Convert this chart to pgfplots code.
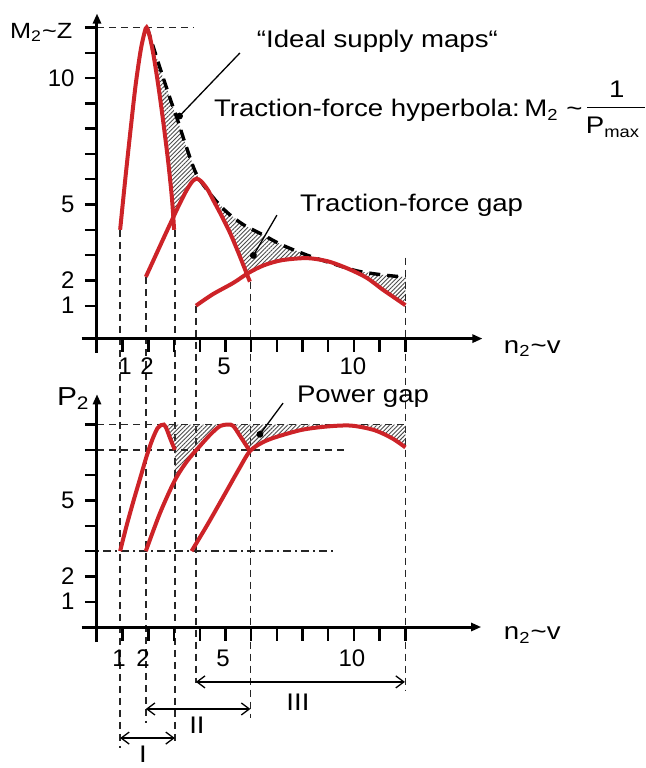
\documentclass[border=0pt]{standalone}
\usepackage{fontspec}
\setmainfont{Liberation Sans}
\usepackage{graphicx}
\usepackage{pgfplots}
\pgfplotsset{compat=1.18}
\usetikzlibrary{patterns.meta,arrows.meta}
\definecolor{gearred}{RGB}{205,35,40}
\newcommand{\hs}[1]{\scalebox{1.15}[1]{#1}}
\tikzset{
  guide/.style={line width=0.85pt,black!85,dash pattern=on 3.5pt off 2.5pt},
  gear/.style={line width=2pt,gearred,smooth,tension=0.5},
  hatch/.style={draw=none,pattern={Lines[angle=45,distance=1.5pt,line width=0.45pt]},pattern color=black!70},
  axisline/.style={line width=1.5pt,-{Triangle[length=5pt,width=4pt]}},
  tk/.style={line width=1.2pt},
  ann/.style={font=\fontsize{12}{14}\selectfont},
  tl/.style={font=\fontsize{12}{14}\selectfont},
  ptr/.style={line width=0.65pt,-{Circle[length=3.4pt]}},
  rng/.style={line width=0.65pt,{Straight Barb[length=4pt,width=6pt]}-{Straight Barb[length=4pt,width=6pt]}}
}
\begin{document}
\begin{tikzpicture}
\useasboundingbox (0,0) rectangle (322.5pt,-384pt);
% ---------------- top: torque ----------------
\begin{axis}[
  at={(48.5pt,-165.5pt)}, anchor=south west,
  scale only axis, width=154.2pt, height=151.8pt,
  xmin=0, xmax=12, ymin=0, ymax=12,
  hide axis, clip=false]
% hatched traction-force gap
\addplot[hatch,forget plot] coordinates {
 (1.95,12.0) (2.2,11.2) (2.45,10.4) (2.84,9.2) (3.15,8.3) (3.42,7.45) (3.87,6.2) (4.5,5.3) (5.05,4.7) (5.7,4.2) (6.46,3.8) (7.2,3.4) (8.17,3.0) (9.0,2.72) (10.1,2.38) (11.1,2.22) (12,2.13)
 (12,1.02) (11.6,1.3) (11.1,1.65) (10.5,2.1) (9.8,2.45) (9.0,2.75) (8.17,2.88) (7.2,2.8) (6.5,2.6) (5.81,2.26)
 (5.5,3.1) (5.18,3.87) (4.85,4.55) (4.52,5.18) (4.3,5.6) (4.05,5.92) (3.87,6.02) (3.7,5.9) (3.49,5.57) (3.25,5.1) (2.97,4.48)
 (2.92,5.2) (2.78,6.6) (2.6,8.1) (2.4,9.6) (2.2,10.9) (2.05,11.65) (1.95,12.0)};
% guides
\draw[guide] (axis cs:0,12) -- (axis cs:3.75,12);
\draw[guide] (axis cs:0.9,4.0) -- (axis cs:0.9,-16.48);
\draw[guide] (axis cs:1.9,2.14) -- (axis cs:1.9,-15.5);
\draw[guide] (axis cs:3.03,4.0) -- (axis cs:3.03,-16.2);
\draw[guide] (axis cs:3.85,1.0) -- (axis cs:3.85,-13.9);
\draw[guide] (axis cs:5.97,1.95) -- (axis cs:5.97,-15.3);
\draw[guide] (axis cs:12,2.9) -- (axis cs:12,-14.2);
% hyperbola
\addplot[black,line width=1.7pt,dash pattern=on 5.5pt off 3.5pt,smooth,tension=0.5] coordinates {
 (1.95,12.0) (2.2,11.2) (2.45,10.4) (2.84,9.2) (3.15,8.3) (3.42,7.45) (3.87,6.2) (4.5,5.3) (5.05,4.7) (5.7,4.2) (6.46,3.8) (7.2,3.4) (8.17,3.0) (9.0,2.72) (10.1,2.38) (11.1,2.22) (12,2.13)};
% gears
\addplot[gear] coordinates {(0.9,4.0) (1.1,6.0) (1.3,7.9) (1.5,9.7) (1.7,11.1) (1.85,11.8) (1.93,12.0) (2.05,11.65) (2.2,10.9) (2.4,9.6) (2.6,8.1) (2.78,6.6) (2.92,5.2) (3.0,4.0)};
\addplot[gear] coordinates {(1.9,2.14) (2.32,3.07) (2.65,3.8) (2.97,4.5) (3.25,5.1) (3.49,5.57) (3.7,5.9) (3.87,6.02) (4.05,5.92) (4.3,5.6) (4.52,5.18) (4.85,4.55) (5.18,3.87) (5.5,3.1) (5.82,2.28) (5.95,1.95)};
\addplot[gear] coordinates {(3.85,1.0) (4.5,1.45) (5.3,1.9) (5.9,2.3) (6.5,2.6) (7.2,2.8) (8.17,2.88) (9.0,2.75) (9.8,2.45) (10.5,2.1) (11.1,1.65) (11.6,1.3) (12,1.02)};
% axes
\draw[axisline] (axis cs:0,-0.85) -- (axis cs:0,12.55);
\draw[axisline] (axis cs:-0.6,-0.3) -- (axis cs:15.0,-0.3);
\pgfplotsinvokeforeach{1,...,12}{\draw[tk] (axis cs:-0.47,#1) -- (axis cs:0,#1);}
\pgfplotsinvokeforeach{1,...,12}{\draw[tk] (axis cs:#1,-0.3) -- (axis cs:#1,-0.82);}
% tick labels
\node[tl,anchor=east] at (axis cs:-0.6,10) {10};
\node[tl,anchor=east] at (axis cs:-0.6,5) {5};
\node[tl,anchor=east] at (axis cs:-0.6,2) {2};
\node[tl,anchor=east] at (axis cs:-0.6,1) {1};
\node[tl] at (axis cs:1.09,-1.4) {1};
\node[tl] at (axis cs:1.95,-1.4) {2};
\node[tl] at (axis cs:4.94,-1.4) {5};
\node[tl] at (axis cs:9.96,-1.4) {10};
\node[anchor=base west,inner sep=0pt,font=\fontsize{11}{13}\selectfont] at (axis cs:-3.4,11.58) {\hs{M\textsubscript{2}\textasciitilde Z}};
\node[anchor=base west,ann] at (axis cs:15.56,-0.87) {\hs{n\textsubscript{2}\textasciitilde v}};
% annotations
\node[anchor=base west,ann] at (axis cs:5.95,11.19) {\hs{“Ideal supply maps“}};
\draw[ptr] (axis cs:5.56,10.99) -- (axis cs:3.12,8.4);
\node[anchor=base west,ann] at (axis cs:4.28,8.46) {\hs{Traction-force hyperbola:\,M\textsubscript{2} \textasciitilde}};
\node[ann] at (axis cs:20.23,9.57) {\hs{1}};
\draw[line width=0.6pt] (axis cs:19.07,8.85) -- (axis cs:21.32,8.85);
\node[ann] at (axis cs:20.08,8.06) {\hs{P\textsubscript{max}}};
\node[anchor=base west,ann] at (axis cs:7.63,4.72) {\hs{Traction-force gap}};
\draw[ptr] (axis cs:7.0,4.58) -- (axis cs:6.02,2.87);
\end{axis}
% ---------------- bottom: power ----------------
\begin{axis}[
  at={(48.5pt,-313.5pt)}, anchor=south west,
  scale only axis, width=154.2pt, height=101.2pt,
  xmin=0, xmax=12, ymin=0, ymax=8,
  hide axis, clip=false]
\addplot[hatch,forget plot] coordinates {
 (2.58,8.0) (12,8.0) (12,7.1) (11.5,7.45) (10.8,7.78) (9.9,7.96) (9.0,7.93) (8.0,7.8) (7.0,7.52) (6.45,7.3) (5.95,6.95)
 (5.6,7.5) (5.3,7.95) (5.1,8.0) (4.8,7.95) (4.45,7.65) (4.0,7.15) (3.5,6.55) (3.03,5.8)
 (3.03,7.0) (2.85,7.45) (2.7,7.85) (2.58,8.0)};
\draw[guide] (axis cs:-0.45,8) -- (axis cs:12,8);
\draw[guide] (axis cs:-0.45,7) -- (axis cs:9.6,7);
\draw[line width=0.85pt,black!85,dash pattern=on 4pt off 2pt on 1pt off 2pt] (axis cs:-0.45,3) -- (axis cs:9.3,3);
% gears
\addplot[gear] coordinates {(0.9,3.0) (1.15,4.0) (1.41,4.95) (1.7,5.95) (1.93,6.75) (2.15,7.4) (2.35,7.85) (2.5,7.98) (2.6,8.0) (2.7,7.85) (2.85,7.45) (3.03,7.0)};
\addplot[gear] coordinates {(1.9,3.0) (2.45,4.5) (3.03,5.8) (3.5,6.55) (4.0,7.15) (4.45,7.65) (4.8,7.95) (5.1,8.0) (5.3,7.95) (5.6,7.5) (5.95,6.95)};
\addplot[gear] coordinates {(3.68,3.0) (4.3,4.05) (5.0,5.3) (5.5,6.2) (5.95,6.95) (6.45,7.3) (7.0,7.52) (8.0,7.8) (9.0,7.93) (9.9,7.96) (10.8,7.78) (11.5,7.45) (12,7.1)};
% axes
\draw[axisline] (axis cs:0,-0.6) -- (axis cs:0,9.2);
\draw[axisline] (axis cs:-0.6,0) -- (axis cs:14.95,0);
\pgfplotsinvokeforeach{1,...,8}{\draw[tk] (axis cs:-0.47,#1) -- (axis cs:0,#1);}
\pgfplotsinvokeforeach{1,...,12}{\draw[tk] (axis cs:#1,0) -- (axis cs:#1,-0.55);}
\node[tl,anchor=east] at (axis cs:-0.6,5) {5};
\node[tl,anchor=east] at (axis cs:-0.6,2) {2};
\node[tl,anchor=east] at (axis cs:-0.6,1) {1};
\node[tl] at (axis cs:0.86,-1.22) {1};
\node[tl] at (axis cs:1.79,-1.22) {2};
\node[tl] at (axis cs:4.9,-1.22) {5};
\node[tl] at (axis cs:9.92,-1.22) {10};
\node[anchor=base west,font=\fontsize{13}{15}\selectfont] at (axis cs:-1.83,8.77) {\hs{P\textsubscript{2}}};
\node[anchor=base west,ann] at (axis cs:15.56,-0.51) {\hs{n\textsubscript{2}\textasciitilde v}};
\node[anchor=base west,ann] at (axis cs:7.51,8.89) {\hs{Power gap}};
\draw[ptr] (axis cs:7.24,8.85) -- (axis cs:6.26,7.51);
% ranges
\draw[rng] (axis cs:3.85,-2.17) -- (axis cs:11.98,-2.17);
\draw[rng] (axis cs:1.9,-3.24) -- (axis cs:5.97,-3.24);
\draw[rng] (axis cs:0.9,-4.39) -- (axis cs:3.03,-4.39);
\node[ann] at (axis cs:7.82,-2.96) {\hs{III}};
\node[ann] at (axis cs:3.89,-3.87) {\hs{II}};
\node[ann] at (axis cs:1.79,-5.02) {\hs{I}};
\end{axis}
\end{tikzpicture}
\end{document}
